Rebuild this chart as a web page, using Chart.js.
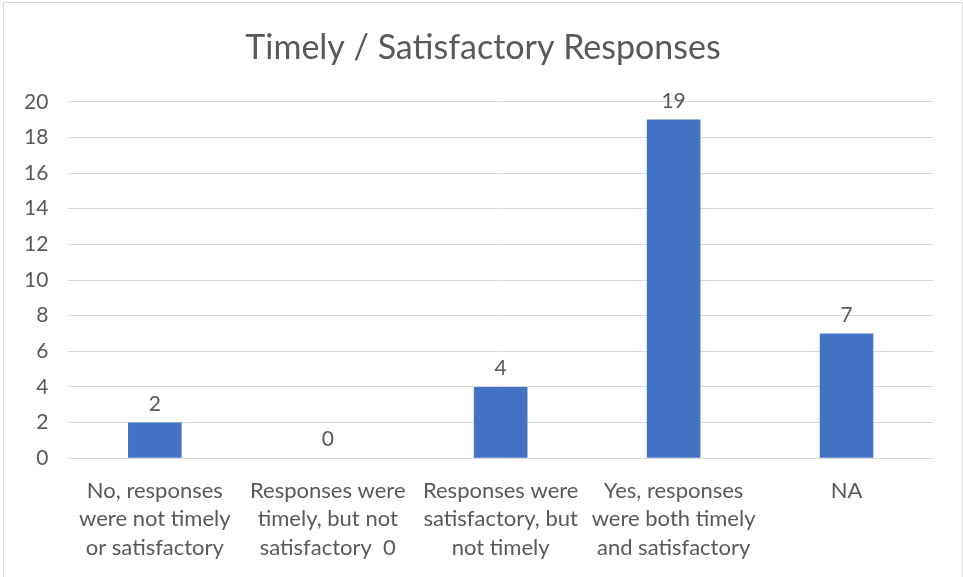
<!DOCTYPE html>
<html>
<head>
<meta charset="utf-8">
<script src="https://cdn.jsdelivr.net/npm/chart.js@4"></script>
<style>
  html, body { margin: 0; padding: 0; background: #fff; overflow: hidden; }
  #wrap { position: absolute; left: 3px; top: 2px; width: 960px; height: 580px; border: 1px solid #d9d9d9; box-sizing: border-box; }
  canvas { display: block; }
</style>
</head>
<body>
<div id="wrap"><canvas id="respChart"></canvas></div>
<script>
const categories = [
    ["No, responses", "were not timely", "or satisfactory"],
    ["Responses were", "timely, but not", "satisfactory  0"],
    ["Responses were", "satisfactory, but", "not timely"],
    ["Yes, responses", "were both timely", "and satisfactory"],
    ["NA"]
];
const counts = [2, 0, 4, 19, 7];
const yTicks = { min: 0, max: 20, step: 2 };

const textColor = "#595959";
const fontFamily = "Lato, 'Open Sans', sans-serif";

// draws the number above each bar
const valueLabels = {
    id: "valueLabels",
    afterDatasetsDraw(chart) {
        const c = chart.ctx;
        const meta = chart.getDatasetMeta(0);
        c.save();
        c.fillStyle = textColor;
        c.font = "21px " + fontFamily;
        c.textAlign = "center";
        c.textBaseline = "bottom";
        meta.data.forEach((bar, i) => {
            c.fillText(counts[i], bar.x, bar.y - 8);
        });
        c.restore();
    }
};

const ctx = document.getElementById("respChart").getContext("2d");
const respChart = new Chart(ctx, {
    type: "bar",
    data: {
        labels: categories,
        datasets: [{
            data: counts,
            backgroundColor: "#4472C4",
            categoryPercentage: 1,
            barPercentage: 0.31
        }]
    },
    options: {
        responsive: true,
        maintainAspectRatio: false,
        animation: false,
        layout: { padding: { left: 0, right: 0, top: 0, bottom: 1 } },
        plugins: {
            legend: { display: false },
            tooltip: { enabled: false },
            title: {
                display: true,
                text: "Timely / Satisfactory Responses",
                color: textColor,
                font: { family: fontFamily, size: 34, weight: "normal" },
                padding: { top: 25, bottom: 33 }
            }
        },
        scales: {
            x: {
                grid: { display: false, drawTicks: false },
                border: { color: "#d9d9d9", width: 1 },
                ticks: {
                    color: textColor,
                    font: { family: fontFamily, size: 22, lineHeight: 1.3 },
                    maxRotation: 0,
                    autoSkip: false,
                    padding: 18
                }
            },
            y: {
                min: yTicks.min,
                max: yTicks.max,
                grid: { color: "#d9d9d9", drawTicks: false },
                border: { display: false },
                ticks: {
                    stepSize: yTicks.step,
                    color: textColor,
                    font: { family: fontFamily, size: 21 },
                    padding: 20
                }
            },
            // empty right-hand axis, only to leave a margin without moving the title
            yRight: {
                position: "right",
                grid: { display: false },
                border: { display: false },
                ticks: { display: false },
                afterFit(scale) { scale.width = 29; }
            }
        }
    },
    plugins: [valueLabels]
});
</script>
</body>
</html>
